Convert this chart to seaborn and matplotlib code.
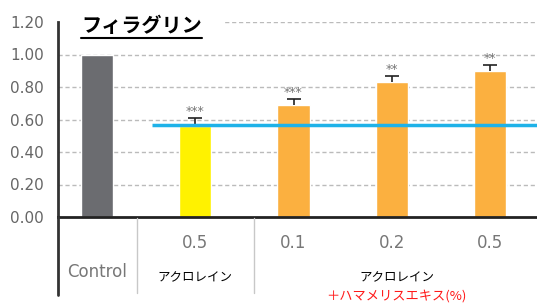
import matplotlib
matplotlib.use("Agg")
import matplotlib.pyplot as plt
import matplotlib.transforms as mtransforms
from matplotlib.patches import Rectangle
import seaborn as sns
import pandas as pd

categories = ["Control", "アクロレイン 0.5", "0.1", "0.2", "0.5"]
values = [1.00, 0.56, 0.69, 0.83, 0.90]
errors = [0.0, 0.05, 0.035, 0.04, 0.035]
stars = ["", "***", "***", "**", "**"]
top_labels = ["", "0.5", "0.1", "0.2", "0.5"]
reference_line = 0.565
yticks = [0.0, 0.2, 0.4, 0.6, 0.8, 1.0, 1.2]
colors = ["#6b6c70", "#fff200", "#fbb040", "#fbb040", "#fbb040"]

sns.set_theme(style="white")
plt.rcParams['font.family'] = ['DejaVu Sans', 'Noto Sans CJK JP']

W, H = 537, 305
fig = plt.figure(figsize=(W / 100, H / 100), dpi=100)
ax = fig.add_axes([58 / W, 88 / H, 479 / W, 195 / H])

df = pd.DataFrame({"cat": categories, "val": values})
sns.barplot(data=df, x="cat", y="val", hue="cat", palette=colors, legend=False,
            width=0.33, ax=ax, saturation=1, errorbar=None)
pos = list(range(len(categories)))
for p, v, e in zip(pos, values, errors):
    if e > 0:
        _, caps, _ = ax.errorbar(p, v, yerr=[[0], [e]], fmt="none", ecolor="#222222",
                                 elinewidth=1.2, capsize=5, capthick=1.2)
        caps[0].set_visible(False)
for p, v, e, s in zip(pos, values, errors, stars):
    if s:
        ax.annotate(s, (p, v + e), xytext=(0, 0), textcoords="offset points",
                    ha="center", va="bottom", fontsize=9, color="#777777")

ax.set_xlim(-0.397, 4.478)
ax.set_ylim(0, 1.2)
ax.set_yticks(yticks)
ax.set_yticklabels([f"{t:.2f}" for t in yticks], fontsize=11, color="#666666")
ax.tick_params(axis="y", length=0, pad=10)
ax.set_xticks([])
ax.set_xlabel("")
ax.set_ylabel("")
for t in yticks[1:]:
    ax.axhline(t, color="#bbbbbb", lw=1, ls=(0, (3, 2)), zorder=0)

ax.plot([0.56, 4.478], [reference_line, reference_line], color="#1fb2e8", lw=2.5,
        zorder=5, solid_capstyle="butt")

for s in ["top", "right"]:
    ax.spines[s].set_visible(False)
ax.spines["left"].set_color("#333333")
ax.spines["left"].set_linewidth(2)
ax.spines["bottom"].set_color("#222222")
ax.spines["bottom"].set_linewidth(2)

# lower category area
fig.add_artist(plt.Line2D([58 / W, 58 / W], [10 / H, 88 / H], color="#333333", lw=2))
for xp in [137, 254]:
    fig.add_artist(plt.Line2D([xp / W, xp / W], [12 / H, 87 / H], color="#c8c8c8", lw=1))

trans = mtransforms.blended_transform_factory(ax.transData, ax.transAxes)
for p, lab in zip(pos, top_labels):
    if lab:
        ax.text(p, -0.135, lab, transform=trans, ha="center", va="center",
                fontsize=12, color="#777777")
ax.text(0, -0.28, "Control", transform=trans, ha="center", va="center",
        fontsize=12, color="#777777")
ax.text(1, -0.31, "アクロレイン", transform=trans, ha="center", va="center",
        fontsize=9, color="black", family=['Noto Sans CJK JP', 'DejaVu Sans'])
ax.text(3.05, -0.31, "アクロレイン", transform=trans, ha="center", va="center",
        fontsize=9, color="black", family=['Noto Sans CJK JP', 'DejaVu Sans'])
ax.text(3.05, -0.405, "＋ハマメリスエキス(%)", transform=trans, ha="center", va="center",
        fontsize=9.5, color="#ff1a1a", family=['Noto Sans CJK JP', 'DejaVu Sans'])

# white title box hiding the top gridline
fig.add_artist(Rectangle((60 / W, 1 - 44 / H), 164 / W, 36 / H, transform=fig.transFigure,
                         facecolor="white", edgecolor="none", zorder=2))
title = fig.text(81 / W, 1 - 25 / H, "フィラグリン", ha="left", va="center",
                 fontsize=14.5, fontweight="bold", color="black",
                 family=['Noto Sans CJK JP', 'DejaVu Sans'], zorder=3)
fig.canvas.draw()
bb = title.get_window_extent()
fig.add_artist(plt.Line2D([bb.x0 / W, bb.x1 / W], [(bb.y0 - 2) / H, (bb.y0 - 2) / H],
                          color="black", lw=1.5, zorder=4))

fig.savefig("out.png", dpi=100)
